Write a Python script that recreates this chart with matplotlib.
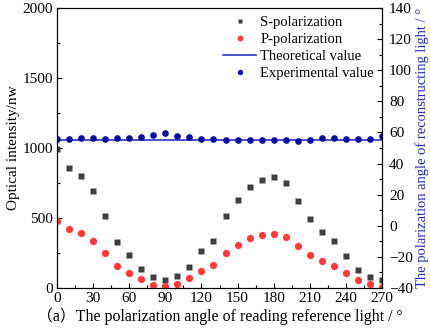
import matplotlib
matplotlib.use("Agg")
import matplotlib.pyplot as plt
from matplotlib.ticker import MultipleLocator

plt.rcParams['font.family'] = ['Liberation Serif', 'Noto Sans CJK SC']
plt.rcParams['font.size'] = 9

angles = [0, 10, 20, 30, 40, 50, 60, 70, 80, 90, 100, 110, 120, 130, 140,
          150, 160, 170, 180, 190, 200, 210, 220, 230, 240, 250, 260, 270]
s_pol = [990, 855, 800, 693, 516, 326, 236, 138, 76, 57, 88, 152, 262, 336, 514,
         631, 724, 771, 793, 748, 621, 493, 398, 334, 231, 131, 76, 57]
p_pol = [479, 419, 390, 338, 252, 155, 109, 62, 19, 12, 29, 69, 121, 162, 248,
         307, 355, 379, 388, 367, 302, 236, 191, 159, 105, 57, 31, 7]
theory_angle = 55
exp_angle = [55.7, 55.5, 56.5, 56.5, 55.7, 56.7, 56.7, 56.9, 58.6, 59.4, 57.9, 56.9, 55.7, 55.5, 55.1,
             54.9, 55.3, 55.3, 55.1, 54.9, 54.7, 54.9, 56.1, 56.7, 55.5, 55.5, 55.7, 57.6]

fig = plt.figure(figsize=(4.3, 3.3), dpi=100)
ax = fig.add_axes([0.1326, 0.1273, 0.7558, 0.8485])
ax2 = ax.twinx()

ax.plot(angles, s_pol, 's', color='#404040', ms=4.3, mec='none', label='S-polarization')
ax.plot(angles, p_pol, 'o', color='#ff3838', ms=5.2, mec='none', label='P-polarization')
ax2.plot([0, 270], [theory_angle, theory_angle], '-', color='#3030c0', lw=1.2, label='Theoretical value')
ax2.plot(angles, exp_angle, 'o', color='#0a0a9c', ms=4.8, mec='none', label='Experimental value')

ax.set_xlim(0, 270)
ax.set_ylim(0, 2000)
ax2.set_ylim(-40, 140)
ax.xaxis.set_major_locator(MultipleLocator(30))
ax.xaxis.set_minor_locator(MultipleLocator(15))
ax.yaxis.set_major_locator(MultipleLocator(500))
ax.yaxis.set_minor_locator(MultipleLocator(250))
ax2.yaxis.set_major_locator(MultipleLocator(20))
ax2.yaxis.set_minor_locator(MultipleLocator(10))

for a in (ax, ax2):
    a.tick_params(which='both', direction='in', labelsize=11, pad=3)
    a.tick_params(which='major', length=3.5, width=0.8)
    a.tick_params(which='minor', length=2, width=0.8)
ax.tick_params(top=False, right=False)
ax2.tick_params(axis='y', pad=5)

ax.set_ylabel('Optical intensity/nw', fontsize=11, labelpad=2)
ax2.set_ylabel('The polarization angle of reconstructing light / °', fontsize=10.5,
               color='#2828c0', labelpad=2)
ax.set_xlabel('（a）The polarization angle of reading reference light / °', fontsize=11.4, labelpad=2)

h1, l1 = ax.get_legend_handles_labels()
h2, l2 = ax2.get_legend_handles_labels()
ax2.legend(h1 + h2, l1 + l2, loc='upper right', frameon=False, fontsize=10.5,
           handlelength=2.26, handletextpad=0.3, labelspacing=0.25, markerscale=0.8,
           borderaxespad=0.15, bbox_to_anchor=(1.0, 1.0))

fig.savefig('out.png', dpi=100)
